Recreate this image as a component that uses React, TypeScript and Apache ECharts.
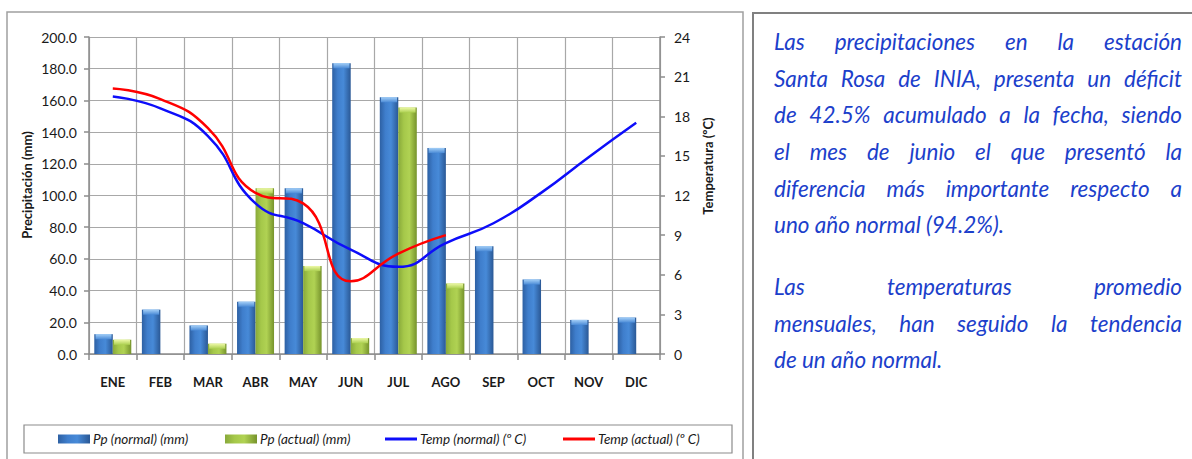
import React, { useEffect, useRef } from "react";
import * as echarts from "echarts";

const months = ["ENE", "FEB", "MAR", "ABR", "MAY", "JUN", "JUL", "AGO", "SEP", "OCT", "NOV", "DIC"];
const ppNormal = [12.5, 28, 18, 33, 104.5, 183.5, 162, 130, 68, 47, 21.5, 23];
const ppActual = [9, 0, 6.5, 104.5, 55.5, 10, 155.5, 44.5, null, null, null, null];
const tempNormal = [19.5, 18.6, 16.5, 11.4, 9.9, 7.9, 6.6, 8.4, 9.9, 12.2, 14.9, 17.5];
const tempActual = [20.1, 19.3, 17.1, 12.2, 11.4, 5.5, 7.6, 9.0, null, null, null, null];

const seriesNames = ["Pp (normal) (mm)", "Pp (actual) (mm)", "Temp (normal) (º C)", "Temp (actual) (º C)"];
const leftAxisTitle = "Precipitación (mm)";
const rightAxisTitle = "Temperatura (ºC)";

const paragraph1 = [
  "Las precipitaciones en la estación",
  "Santa Rosa de INIA, presenta un déficit",
  "de 42.5% acumulado a la fecha, siendo",
  "el mes de junio el que presentó la",
  "diferencia más importante respecto a",
  "uno año normal (94.2%).",
];
const paragraph2 = [
  "Las temperaturas promedio",
  "mensuales, han seguido la tendencia",
  "de un año normal.",
];

const FONT = "Lato, 'Open Sans', sans-serif";

export default function App() {
  const ref = useRef<HTMLDivElement>(null);
  useEffect(() => {
    if (!ref.current) return;
    const chart = echarts.init(ref.current, null, { renderer: "svg" });

    const blueGrad = new echarts.graphic.LinearGradient(0, 0, 1, 0, [
      { offset: 0, color: "#2d60a3" },
      { offset: 0.3, color: "#3f7ecc" },
      { offset: 0.6, color: "#478ad8" },
      { offset: 1, color: "#2a5895" },
    ]);
    const greenGrad = new echarts.graphic.LinearGradient(0, 0, 1, 0, [
      { offset: 0, color: "#88a93a" },
      { offset: 0.3, color: "#a5c84a" },
      { offset: 0.6, color: "#b0d253" },
      { offset: 1, color: "#76932c" },
    ]);
    const blueCap = new echarts.graphic.LinearGradient(0, 0, 0, 1, [
      { offset: 0, color: "#a5d0f8" },
      { offset: 1, color: "#4a8ad6" },
    ]);
    const greenCap = new echarts.graphic.LinearGradient(0, 0, 0, 1, [
      { offset: 0, color: "#eef9a8" },
      { offset: 1, color: "#abcf4f" },
    ]);

    // right text panel, justified by measuring words
    const textColor = "#1c3fcb";
    const boxLeft = 774;
    const boxRight = 1182;
    const boxW = boxRight - boxLeft;
    const canvas = document.createElement("canvas");
    const ctx = canvas.getContext("2d")!;
    let fs = 22.5;
    ctx.font = `italic ${fs}px ${FONT}`;
    const widest = Math.max(...[...paragraph1, ...paragraph2].map((l) => ctx.measureText(l).width));
    if (widest > boxW - 2) {
      fs = (fs * (boxW - 2)) / widest;
      ctx.font = `italic ${fs}px ${FONT}`;
    }
    const spaceW = ctx.measureText(" ").width;
    const textEls: any[] = [];
    const layPara = (lines: string[], firstBaseline: number, lh: number) => {
      lines.forEach((line, li) => {
        const words = line.split(" ");
        const widths = words.map((w) => ctx.measureText(w).width);
        const total = widths.reduce((a, b) => a + b, 0);
        const justify = li < lines.length - 1 && words.length > 1;
        const gap = justify ? (boxW - total) / (words.length - 1) : spaceW;
        let x = boxLeft;
        const baseline = firstBaseline + li * lh;
        words.forEach((w, wi) => {
          textEls.push({
            type: "text",
            x,
            y: baseline - fs * 0.36,
            silent: true,
            style: {
              text: w,
              font: `italic ${fs}px ${FONT}`,
              fill: textColor,
              textAlign: "left",
              textVerticalAlign: "middle",
              verticalAlign: "middle",
            },
          });
          x += widths[wi] + gap;
        });
      });
    };
    layPara(paragraph1, 49.5, 36.7);
    layPara(paragraph2, 295, 36.4);

    const axisLabelStyle = { color: "#1a1a1a", fontFamily: FONT, fontSize: 14 };
    const legendText = { color: "#1a1a1a", fontFamily: FONT, fontSize: 13.5, fontStyle: "italic" as const };

    chart.setOption({
      animation: false,
      backgroundColor: "#ffffff",
      grid: { left: 89, right: 532, top: 37, bottom: 105, containLabel: false },
      xAxis: {
        type: "category",
        data: months,
        axisLine: { lineStyle: { color: "#8c8c8c", width: 1.5 } },
        axisTick: { show: true, length: 6, lineStyle: { color: "#8c8c8c", width: 1.5 } },
        splitLine: { show: true, lineStyle: { color: "#a8a8a8", width: 1.2 } },
        axisLabel: { ...axisLabelStyle, fontSize: 13, fontWeight: "bold", margin: 21 },
      },
      yAxis: [
        {
          type: "value",
          min: 0,
          max: 200,
          interval: 20,
          position: "left",
          axisLine: { show: true, lineStyle: { color: "#8c8c8c", width: 1.5 } },
          axisTick: { show: true, length: 5, lineStyle: { color: "#8c8c8c", width: 1.5 } },
          splitLine: { show: true, lineStyle: { color: "#a8a8a8", width: 1.2 } },
          axisLabel: { ...axisLabelStyle, margin: 12, formatter: (v: number) => v.toFixed(1) },
        },
        {
          type: "value",
          min: 0,
          max: 24,
          interval: 3,
          position: "right",
          axisLine: { show: true, lineStyle: { color: "#8c8c8c", width: 1.5 } },
          axisTick: { show: true, length: 5, lineStyle: { color: "#8c8c8c", width: 1.5 } },
          splitLine: { show: false },
          axisLabel: { ...axisLabelStyle, margin: 14 },
        },
      ],
      legend: [
        { left: 58, data: [{ name: seriesNames[0], icon: "rect" }], itemHeight: 9 },
        { left: 225, data: [{ name: seriesNames[1], icon: "rect" }], itemHeight: 9 },
        { left: 385, data: [{ name: seriesNames[2], icon: "rect" }], itemHeight: 3 },
        { left: 563, data: [{ name: seriesNames[3], icon: "rect" }], itemHeight: 3 },
      ].map((l) => ({
        ...l,
        top: 432,
        padding: 0,
        itemWidth: 32,
        itemGap: 0,
        selectedMode: false,
        textStyle: { ...legendText, padding: [0, 0, 0, -2] },
      })),
      series: [
        {
          name: seriesNames[0],
          type: "bar",
          data: ppNormal,
          barWidth: 18.5,
          barGap: "0%",
          itemStyle: { color: blueGrad },
          z: 2,
        },
        {
          name: seriesNames[1],
          type: "bar",
          data: ppActual,
          barWidth: 18.5,
          barGap: "0%",
          itemStyle: { color: greenGrad },
          z: 2,
        },
        {
          name: "capNormal",
          type: "pictorialBar",
          data: ppNormal.map((v) => (v ? v : "-")),
          symbol: "rect",
          symbolSize: [16, 5],
          symbolPosition: "end",
          symbolOffset: [-9.25, 0],
          itemStyle: { color: blueCap },
          silent: true,
          z: 3,
        },
        {
          name: "capActual",
          type: "pictorialBar",
          data: ppActual.map((v) => (v ? v : "-")),
          symbol: "rect",
          symbolSize: [16, 5],
          symbolPosition: "end",
          symbolOffset: [9.25, 0],
          itemStyle: { color: greenCap },
          silent: true,
          z: 3,
        },
        {
          name: seriesNames[2],
          type: "line",
          yAxisIndex: 1,
          data: tempNormal,
          smooth: 0.5,
          showSymbol: false,
          symbol: "none",
          lineStyle: { color: "#0d0dfa", width: 2.5 },
          itemStyle: { color: "#0d0dfa" },
          z: 5,
        },
        {
          name: seriesNames[3],
          type: "line",
          yAxisIndex: 1,
          data: tempActual,
          smooth: 0.5,
          showSymbol: false,
          symbol: "none",
          lineStyle: { color: "#ff0000", width: 2.5 },
          itemStyle: { color: "#ff0000" },
          z: 6,
        },
      ],
      graphic: [
        {
          type: "rect",
          silent: true,
          z: -1,
          shape: { x: 7, y: 12, width: 736, height: 470 },
          style: { fill: "none", stroke: "#a0a0a0", lineWidth: 1.5 },
        },
        {
          type: "rect",
          silent: true,
          shape: { x: 24, y: 425, width: 708, height: 28 },
          style: { fill: "none", stroke: "#8c8c8c", lineWidth: 1.2 },
        },
        {
          type: "rect",
          silent: true,
          shape: { x: 753, y: 13, width: 460, height: 470 },
          style: { fill: "none", stroke: "#808080", lineWidth: 2 },
        },
        {
          type: "text",
          x: 27,
          y: 185,
          rotation: Math.PI / 2,
          silent: true,
          style: {
            text: leftAxisTitle,
            font: `bold 13px ${FONT}`,
            fill: "#1a1a1a",
            textAlign: "center",
            textVerticalAlign: "middle",
            verticalAlign: "middle",
          },
        },
        {
          type: "text",
          x: 708,
          y: 166,
          rotation: Math.PI / 2,
          silent: true,
          style: {
            text: rightAxisTitle,
            font: `bold 13px ${FONT}`,
            fill: "#1a1a1a",
            textAlign: "center",
            textVerticalAlign: "middle",
            verticalAlign: "middle",
          },
        },
        ...textEls,
      ],
    });
    return () => chart.dispose();
  }, []);
  return (
    <div
      ref={ref}
      style={{ position: "absolute", left: 0, top: 0, width: 1192, height: 459, background: "#fff" }}
    />
  );
}
